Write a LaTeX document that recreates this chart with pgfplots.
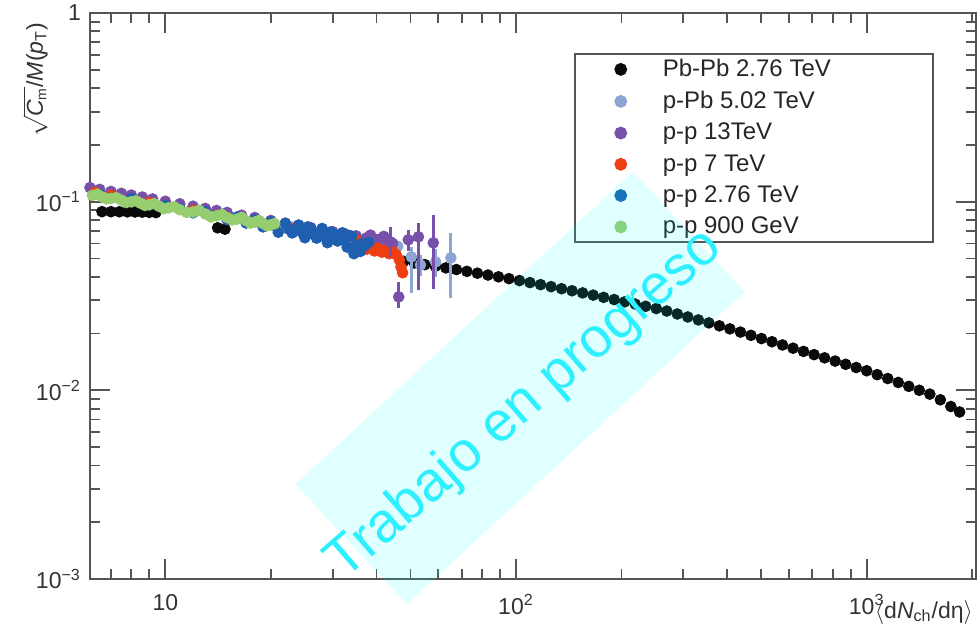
\documentclass[border=0pt]{standalone}
\usepackage{pgfplots}
\pgfplotsset{compat=1.18}
\usepackage{pgfplotstable}
\usepackage{fontspec}
\setmainfont{Liberation Sans}
\definecolor{cPbPb}{RGB}{10,10,10}
\definecolor{cPPb}{RGB}{140,165,210}
\definecolor{cP13}{RGB}{120,80,170}
\definecolor{cP7}{RGB}{238,62,18}
\definecolor{cP276}{RGB}{30,95,175}
\definecolor{cP900}{RGB}{150,205,110}
\definecolor{axgray}{RGB}{85,85,85}
\definecolor{wmtext}{RGB}{45,240,255}
\definecolor{wmfill}{RGB}{0,255,255}

\pgfplotstableread{
x y
6.6 0.0885
7.0 0.0885
7.4 0.0884
7.8 0.0883
8.2 0.0882
8.6 0.0880
9.0 0.0878
9.4 0.0875
14.1 0.0727
14.8 0.0715
47.86 0.04830
51.29 0.04734
54.95 0.04638
58.88 0.04546
63.10 0.04457
67.61 0.04368
72.44 0.04271
77.62 0.04178
83.18 0.04086
89.13 0.03996
95.50 0.03908
102.3 0.03819
109.6 0.03725
117.5 0.03633
125.9 0.03544
134.9 0.03457
144.5 0.03372
154.9 0.03285
166.0 0.03197
177.8 0.03112
190.5 0.03028
204.2 0.02946
218.8 0.02866
234.4 0.02789
251.2 0.02714
269.2 0.02632
288.4 0.02539
309.0 0.02448
331.1 0.02362
354.8 0.02278
380.2 0.02197
407.4 0.02117
436.5 0.02036
467.7 0.01957
501.2 0.01882
537.0 0.01810
575.4 0.01740
616.6 0.01673
660.7 0.01608
707.9 0.01546
758.6 0.01487
812.8 0.01429
871.0 0.01374
933.3 0.01321
1000 0.01270
1071.5 0.01211
1148.2 0.01155
1230.3 0.01101
1318.3 0.01050
1412.5 0.01001
1513.6 0.00955
1621.8 0.00891
1737.8 0.00821
1840.8 0.00768
}\tPbPb

\pgfplotstableread{
x y
6 0.1158
6.5 0.1127
7 0.1099
8 0.1050
9 0.1009
10 0.0973
12 0.0915
14 0.0868
16 0.0830
18 0.0797
20 0.0769
23 0.0733
26 0.0704
30 0.0670
34 0.0642
38 0.0618
42 0.0598
46 0.0580
}\tPPb

\pgfplotstableread{
x y ep em
50.3 0.0510 0.0066 0.0182
53.4 0.0462 0.0060 0.0060
59.0 0.0479 0.0080 0.0080
65.2 0.0504 0.0180 0.0196
}\tPPbTail

\pgfplotstableread{
x y
6.1 0.1187
6.5 0.1162
7 0.1133
7.5 0.1107
8 0.1084
8.6 0.1058
9.2 0.1034
10 0.1005
11 0.0974
12 0.0946
13 0.0921
14 0.0898
15 0.0877
16.5 0.0848
18 0.0824
20 0.0795
22 0.0770
24 0.0748
26 0.0728
28 0.0710
30 0.0694
32.5 0.0675
35 0.0659
37.5 0.0644
38.5 0.0665
40 0.0630
41.5 0.0640
42 0.0655
43 0.0615
44.5 0.0600
}\tPthirteen

\pgfplotstableread{
x y ep em
43.9 0.0612 0.012 0.010
46.3 0.0313 0.006 0.004
49.3 0.0628 0.008 0.008
52.7 0.0651 0.012 0.031
58.1 0.0605 0.025 0.026
}\tPthirteenTail

\pgfplotstableread{
x y
6.3 0.1120
7 0.1081
8 0.1033
9 0.0992
10 0.0957
12 0.0900
14 0.0853
16 0.0815
18 0.0783
20 0.0756
23 0.0721
26 0.0692
29 0.0666
32 0.0645
35 0.0625
36.5 0.0585
37.5 0.0560
38.5 0.0575
39.5 0.0548
40.5 0.0565
41.5 0.0540
42.5 0.0555
43.5 0.0530
44.5 0.0545
45.5 0.0525
46.5 0.0490
47 0.0450
47.5 0.0420
}\tPseven

\pgfplotstableread{
x y
6.5 0.1091
7 0.1044
8 0.1039
9 0.0960
10 0.0956
11 0.0917
12 0.0873
13 0.0885
14 0.0847
15 0.0803
16 0.0827
17 0.0771
18 0.0803
19 0.0735
20 0.0783
20.5 0.0747
21 0.0689
22 0.0767
22.5 0.0715
23 0.0683
24 0.0752
24.5 0.0690
25 0.0644
25.5 0.0735
26 0.0719
26.5 0.0670
27 0.0641
28 0.0721
28.5 0.0650
29 0.0606
29.5 0.0690
30 0.0679
30.5 0.0640
31 0.0619
32 0.0684
32.5 0.0625
33 0.0574
33.5 0.0660
34 0.0657
34.5 0.0530
35 0.0582
36 0.0545
36.5 0.0600
37 0.0584
38 0.0609
}\tPtwo

\pgfplotstableread{
x y
6.2 0.1080
6.4 0.1095
6.6 0.1060
6.8 0.1035
7.0 0.1041
7.25 0.1050
7.5 0.1019
7.75 0.0990
8.0 0.0999
8.25 0.1010
8.5 0.0981
8.75 0.0955
9.0 0.0964
9.3 0.0975
9.6 0.0945
9.9 0.0918
10.2 0.0927
10.6 0.0940
11 0.0906
11.5 0.0878
12 0.0882
12.5 0.0900
13 0.0861
13.5 0.0830
14 0.0842
14.5 0.0855
15 0.0824
15.5 0.0800
16 0.0808
16.5 0.0825
17 0.0793
17.5 0.0770
18 0.0780
18.5 0.0795
19 0.0767
19.5 0.0745
20 0.0755
20.5 0.0765
}\tPnine

\begin{document}
\begin{tikzpicture}
\path[use as bounding box] (-45pt,-28.5pt) rectangle (443.5pt,289.5pt);
\begin{axis}[
  at={(0pt,0pt)}, anchor=south west,
  scale only axis, width=443pt, height=283pt,
  xmode=log, ymode=log,
  xmin=6.1, xmax=2050, ymin=1e-3, ymax=1,
  axis line style={line width=1.2pt, draw=axgray},
  tick style={line width=0.9pt, draw=axgray},
  tick align=inside,
  major tick length=10pt, minor tick length=5pt,
  xtick={10,100,1000},
  xticklabels={10,10\textsuperscript{2},10\textsuperscript{3}},
  minor xtick={7,8,9,20,30,40,50,60,70,80,90,200,300,400,500,600,700,800,900,2000},
  ytick={0.001,0.01,0.1,1},
  yticklabels={10\textsuperscript{−3},10\textsuperscript{−2},10\textsuperscript{−1},1},
  minor ytick={0.002,0.003,0.004,0.005,0.006,0.007,0.008,0.009,0.02,0.03,0.04,0.05,0.06,0.07,0.08,0.09,0.2,0.3,0.4,0.5,0.6,0.7,0.8,0.9},
  ticklabel style={font=\fontsize{11.5}{13}\selectfont, text=black!80},
  xticklabel style={yshift=-4pt},
  yticklabel style={xshift=-1pt},
  xlabel={$\langle$d\textit{N}\textsubscript{ch}/dη$\rangle$},
  xlabel style={at={(axis description cs:1,0)}, anchor=north east, yshift=-7pt, xshift=2pt, font=\fontsize{11.5}{13}\selectfont, text=black!80},
  ylabel={$\sqrt{\mbox{\itshape C}_{\mbox{\scriptsize m}}}$/\textit{M}(\textit{p}\textsubscript{T})},
  ylabel style={at={(axis description cs:-0.062,0.995)}, anchor=east, font=\fontsize{11.5}{13}\selectfont, text=black!80},
  clip mode=individual,
  legend cell align=left,
  legend style={at={(axis description cs:0.546,0.929)}, anchor=north west,
    draw=axgray, line width=1pt, fill=white,
    font=\fontsize{12}{14}\selectfont, text=black!85,
    inner xsep=6pt, inner ysep=0.5pt, row sep=1.8pt},
  legend image code/.code={\path[draw=none,fill=none] (0pt,-3pt) rectangle (36pt,3pt);
    \draw[#1,only marks,mark repeat=2,mark phase=2] plot coordinates {(0pt,0pt)(17pt,0pt)(34pt,0pt)};},
  error bars/error bar style={line width=1.6pt},
  error bars/error mark=none,
]
\addplot[only marks, mark=*, mark size=2.7pt, color=cPbPb] table[x=x,y=y] {\tPbPb};
\addlegendentry{\makebox[127pt][l]{Pb-Pb 2.76 TeV}}
\addplot[only marks, mark=*, mark size=2.7pt, color=cPPb] table[x=x,y=y] {\tPPb};
\addlegendentry{\makebox[127pt][l]{p-Pb 5.02 TeV}}
\addplot[only marks, mark=*, mark size=2.7pt, color=cP13] table[x=x,y=y] {\tPthirteen};
\addlegendentry{\makebox[127pt][l]{p-p 13TeV}}
\addplot[only marks, mark=*, mark size=2.7pt, color=cP7] table[x=x,y=y] {\tPseven};
\addlegendentry{\makebox[127pt][l]{p-p 7 TeV}}
\addplot[only marks, mark=*, mark size=2.7pt, color=cP276] table[x=x,y=y] {\tPtwo};
\addlegendentry{\makebox[127pt][l]{p-p 2.76 TeV}}
\addplot[only marks, mark=*, mark size=2.7pt, color=cP900] table[x=x,y=y] {\tPnine};
\addlegendentry{\makebox[127pt][l]{p-p 900 GeV}}
\addplot[forget plot, only marks, mark=*, mark size=2.7pt, color=cPPb,
  error bars/.cd, y dir=both, y explicit] table[x=x,y=y,y error plus=ep,y error minus=em] {\tPPbTail};
\addplot[forget plot, only marks, mark=*, mark size=2.7pt, color=cP13,
  error bars/.cd, y dir=both, y explicit] table[x=x,y=y,y error plus=ep,y error minus=em] {\tPthirteenTail};
\end{axis}
% watermark (drawn over the legend, as in the reference)
\node[rotate=42.8, fill=wmfill, fill opacity=0.12, draw=none, minimum width=230pt, minimum height=82pt, inner sep=0pt] at (215pt,95.5pt) {};
\node[rotate=41, text=wmtext, font=\fontsize{28}{30}\selectfont, inner sep=0pt] at (217.5pt,87pt) {Trabajo en progreso};
\end{tikzpicture}
\end{document}
